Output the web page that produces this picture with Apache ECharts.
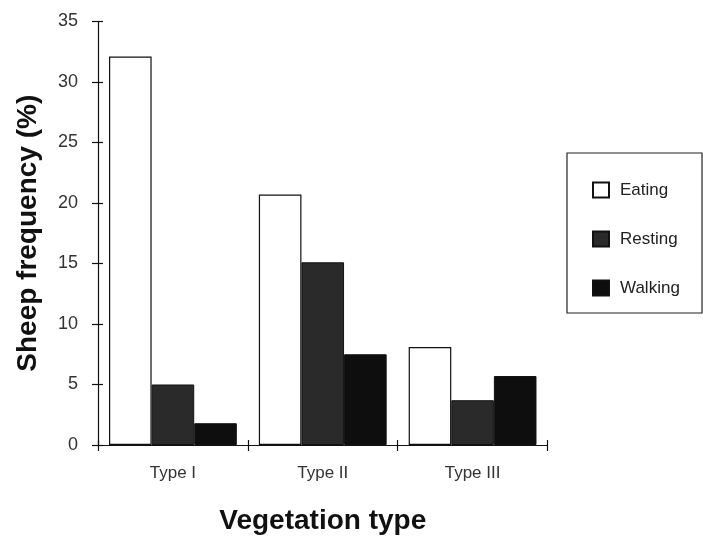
<!DOCTYPE html>
<html>
<head>
<meta charset="utf-8">
<script src="https://cdn.jsdelivr.net/npm/echarts@6/dist/echarts.min.js"></script>
<style>html,body{margin:0;padding:0;background:#fff}#c{width:703px;height:540px}</style>
</head>
<body>
<div id="c"></div>
<script>
const categories = ["Type I", "Type II", "Type III"];
const eating = [32.1, 20.7, 8.1];
const resting = [5.0, 15.1, 3.7];
const walking = [1.8, 7.5, 5.7];
const seriesNames = ["Eating", "Resting", "Walking"];
const yTicks = {min: 0, max: 35, interval: 5};

const chart = echarts.init(document.getElementById('c'), null, {renderer: 'canvas'});
const font = 'Liberation Sans, Arial, sans-serif';
const barBase = {type: 'bar', barGap: '0%', barCategoryGap: '14.7%'};
chart.setOption({
  backgroundColor: '#fff',
  animation: false,
  grid: {left: 98, top: 21.5, width: 449.5, height: 425.8},
  legend: {
    orient: 'vertical', left: 587, top: 176.5,
    itemWidth: 16, itemHeight: 15, itemGap: 32, icon: 'rect',
    data: seriesNames,
    textStyle: {fontFamily: font, fontSize: 17, color: '#222', padding: [0, 0, 0, 6]}
  },
  graphic: [{
    type: 'rect', shape: {x: 567, y: 153, width: 135, height: 160},
    style: {fill: 'none', stroke: '#222', lineWidth: 1.2}, silent: true
  }],
  xAxis: [{
    type: 'category', data: categories, position: 'bottom',
    axisLine: {lineStyle: {color: '#111', width: 1.2}},
    axisTick: {show: true, length: 6, lineStyle: {color: '#111', width: 1.2}},
    axisLabel: {fontFamily: font, fontSize: 17, color: '#333', margin: 20},
    name: 'Vegetation type', nameLocation: 'middle', nameGap: 62,
    nameTextStyle: {fontFamily: font, fontSize: 28, fontWeight: 'bold', color: '#111'}
  }, {
    type: 'category', data: categories, position: 'bottom',
    axisLine: {show: false},
    axisTick: {show: true, inside: true, length: 5, lineStyle: {color: '#111', width: 1.2}},
    axisLabel: {show: false}
  }],
  yAxis: [{
    type: 'value', min: yTicks.min, max: yTicks.max, interval: yTicks.interval,
    axisLine: {show: true, lineStyle: {color: '#111', width: 1.2}},
    axisTick: {show: true, length: 6, lineStyle: {color: '#111', width: 1.2}},
    axisLabel: {fontFamily: font, fontSize: 18, color: '#333', margin: 20},
    splitLine: {show: false},
    name: 'Sheep frequency (%)', nameLocation: 'middle', nameGap: 56,
    nameTextStyle: {fontFamily: font, fontSize: 28, fontWeight: 'bold', color: '#111'}
  }, {
    type: 'value', min: yTicks.min, max: yTicks.max, interval: yTicks.interval, position: 'left',
    axisLine: {show: false},
    axisTick: {show: true, inside: true, length: 5, lineStyle: {color: '#111', width: 1.2}},
    axisLabel: {show: false}, splitLine: {show: false}
  }],
  series: [
    Object.assign({}, barBase, {name: seriesNames[0], data: eating,
      itemStyle: {color: '#fff', borderColor: '#111', borderWidth: 1.2}}),
    Object.assign({}, barBase, {name: seriesNames[1], data: resting,
      itemStyle: {color: '#2a2a2a', borderColor: '#111', borderWidth: 1}}),
    Object.assign({}, barBase, {name: seriesNames[2], data: walking,
      itemStyle: {color: '#0e0e0e', borderColor: '#111', borderWidth: 1}})
  ]
});
</script>
</body>
</html>
